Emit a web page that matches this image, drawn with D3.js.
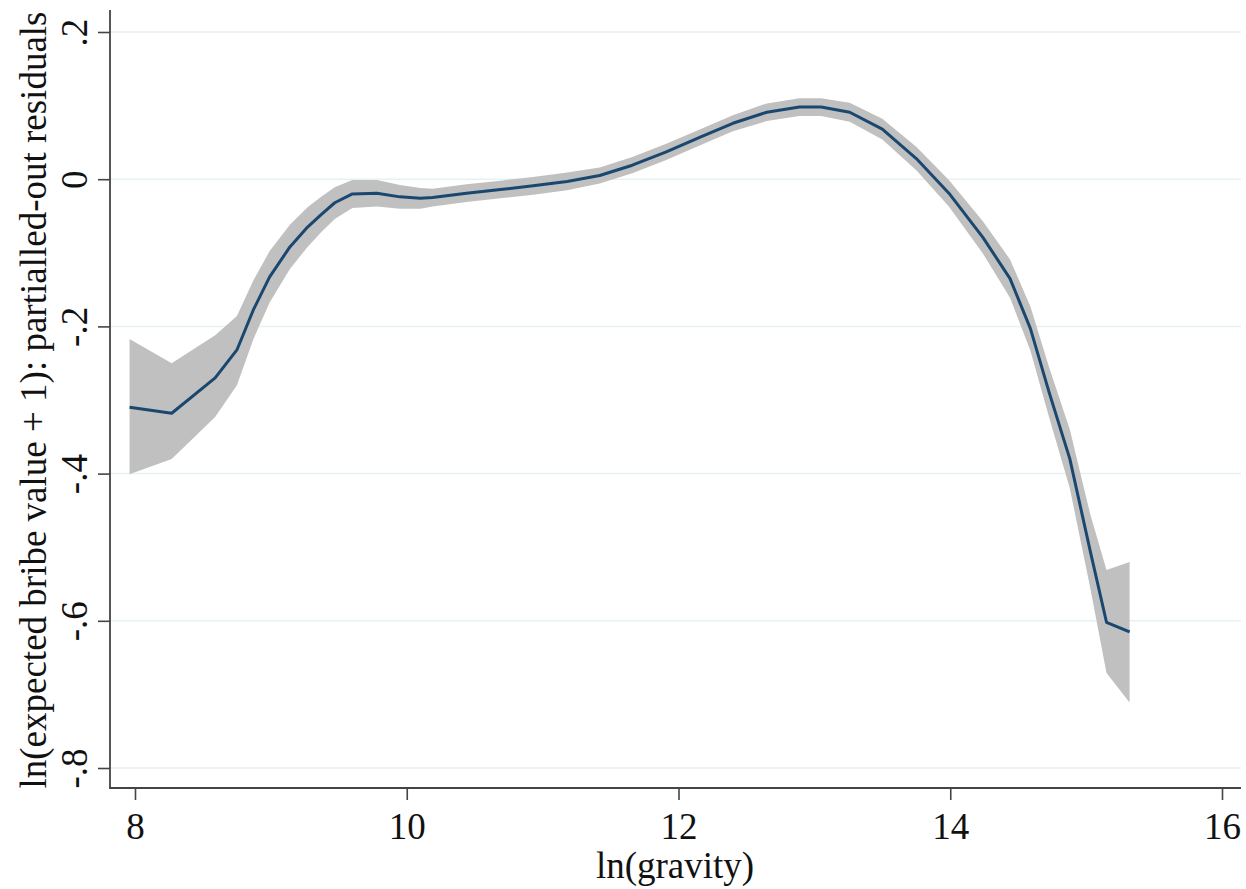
<!DOCTYPE html>
<html>
<head>
<meta charset="utf-8">
<script src="https://cdn.jsdelivr.net/npm/d3@7"></script>
<style>
  html, body { margin: 0; padding: 0; background: #fff; }
  svg { display: block; }
  svg text { font-family: "Liberation Serif", "Times New Roman", serif !important; fill: #111; }
</style>
</head>
<body>
<svg id="chart" width="1246" height="889"></svg>
<script>
// ---- data ----
const gravity = [7.96, 8.27, 8.59, 8.75, 8.87, 8.99, 9.14, 9.27, 9.37, 9.47, 9.60, 9.78, 9.95, 10.10, 10.19, 10.44, 10.69, 10.93, 11.18, 11.42, 11.66, 11.91, 12.16, 12.40, 12.65, 12.89, 13.05, 13.26, 13.50, 13.75, 13.99, 14.24, 14.44, 14.59, 14.73, 14.88, 15.03, 15.15, 15.32];
const fitted  = [-0.310, -0.318, -0.270, -0.232, -0.178, -0.133, -0.092, -0.065, -0.048, -0.032, -0.020, -0.019, -0.024, -0.026, -0.025, -0.019, -0.014, -0.009, -0.003, 0.005, 0.019, 0.037, 0.057, 0.076, 0.091, 0.098, 0.098, 0.091, 0.068, 0.028, -0.019, -0.079, -0.135, -0.203, -0.291, -0.380, -0.505, -0.602, -0.615];
const ciLower = [-0.401, -0.380, -0.323, -0.280, -0.218, -0.168, -0.122, -0.092, -0.072, -0.054, -0.039, -0.037, -0.040, -0.040, -0.037, -0.031, -0.026, -0.021, -0.015, -0.006, 0.008, 0.026, 0.046, 0.065, 0.079, 0.086, 0.086, 0.078, 0.054, 0.012, -0.037, -0.101, -0.161, -0.233, -0.325, -0.420, -0.555, -0.671, -0.711];
const ciUpper = [-0.217, -0.250, -0.212, -0.186, -0.138, -0.098, -0.062, -0.038, -0.024, -0.011, -0.001, -0.001, -0.008, -0.012, -0.013, -0.007, -0.002, 0.003, 0.009, 0.016, 0.030, 0.048, 0.068, 0.087, 0.103, 0.110, 0.110, 0.104, 0.082, 0.044, -0.001, -0.057, -0.109, -0.173, -0.257, -0.340, -0.455, -0.531, -0.520];
const xTicks = [8, 10, 12, 14, 16];
const yTicks = [0.2, 0, -0.2, -0.4, -0.6, -0.8];
const yTickLabels = [".2", "0", "-.2", "-.4", "-.6", "-.8"];
const xTitle = "ln(gravity)";
const yTitle = "ln(expected bribe value + 1): partialled-out residuals";

// ---- layout ----
const FONT = '"Liberation Serif", "Times New Roman", serif';
const FS = "37px";
const svg = d3.select("#chart");
const axisX0 = 110, axisX1 = 1241, axisY0 = 10, axisY1 = 788;

const x = d3.scaleLinear().domain([8, 16]).range([135, 1222]);
const y = d3.scaleLinear().domain([-0.8, 0.2]).range([768, 32]);

const data = gravity.map((g, i) => ({ g, f: fitted[i], lo: ciLower[i], hi: ciUpper[i] }));

// gridlines
svg.append("g").selectAll("line").data(yTicks).join("line")
  .attr("x1", axisX0).attr("x2", axisX1)
  .attr("y1", d => y(d)).attr("y2", d => y(d))
  .attr("stroke", "#e8f1f2").attr("stroke-width", 1.5);

// CI band
svg.append("path").datum(data)
  .attr("d", d3.area().x(d => x(d.g)).y0(d => y(d.lo)).y1(d => y(d.hi)).curve(d3.curveLinear))
  .attr("fill", "#c0c0c0").attr("stroke", "none");

// fitted line
svg.append("path").datum(data)
  .attr("d", d3.line().x(d => x(d.g)).y(d => y(d.f)).curve(d3.curveLinear))
  .attr("fill", "none").attr("stroke", "#1a476f").attr("stroke-width", 3).attr("stroke-linejoin", "round");

// y axis
const yAxis = d3.axisLeft(y).tickValues(yTicks).tickSize(12).tickPadding(0)
  .tickFormat((d, i) => yTickLabels[i]);
const gy = svg.append("g").attr("transform", `translate(${axisX0},0)`).call(yAxis)
  .attr("font-family", FONT).attr("font-size", FS);
gy.select(".domain").remove();
gy.selectAll(".tick line").attr("stroke", "#444").attr("stroke-width", 1.6);
gy.selectAll(".tick text")
  .attr("x", null)
  .attr("text-anchor", "middle")
  .attr("transform", "translate(-36,0) rotate(-90)")
  .attr("dy", "0.35em")
  .attr("font-family", FONT).attr("font-size", FS).attr("fill", "#111");

// x axis
const xAxis = d3.axisBottom(x).tickValues(xTicks).tickSize(12).tickFormat(d3.format("d"));
const gx = svg.append("g").attr("transform", `translate(0,${axisY1})`).call(xAxis)
  .attr("font-family", FONT).attr("font-size", FS);
gx.select(".domain").remove();
gx.selectAll(".tick line").attr("stroke", "#444").attr("stroke-width", 1.6);
gx.selectAll(".tick text").attr("y", 51).attr("dy", null)
  .attr("font-family", FONT).attr("font-size", FS).attr("fill", "#111");

// axis lines
svg.append("line").attr("x1", axisX0).attr("x2", axisX0).attr("y1", axisY0).attr("y2", axisY1 + 0.8)
  .attr("stroke", "#444").attr("stroke-width", 1.8);
svg.append("line").attr("x1", axisX0 - 0.8).attr("x2", axisX1).attr("y1", axisY1).attr("y2", axisY1)
  .attr("stroke", "#444").attr("stroke-width", 1.8);

// titles
svg.append("text").attr("x", 675).attr("y", 878).attr("text-anchor", "middle")
  .attr("font-family", FONT).attr("font-size", FS).text(xTitle);
svg.append("text").attr("text-anchor", "middle")
  .attr("transform", "translate(33,400) rotate(-90)").attr("dy", "0.35em")
  .attr("font-family", FONT).attr("font-size", FS).text(yTitle);
</script>
</body>
</html>
